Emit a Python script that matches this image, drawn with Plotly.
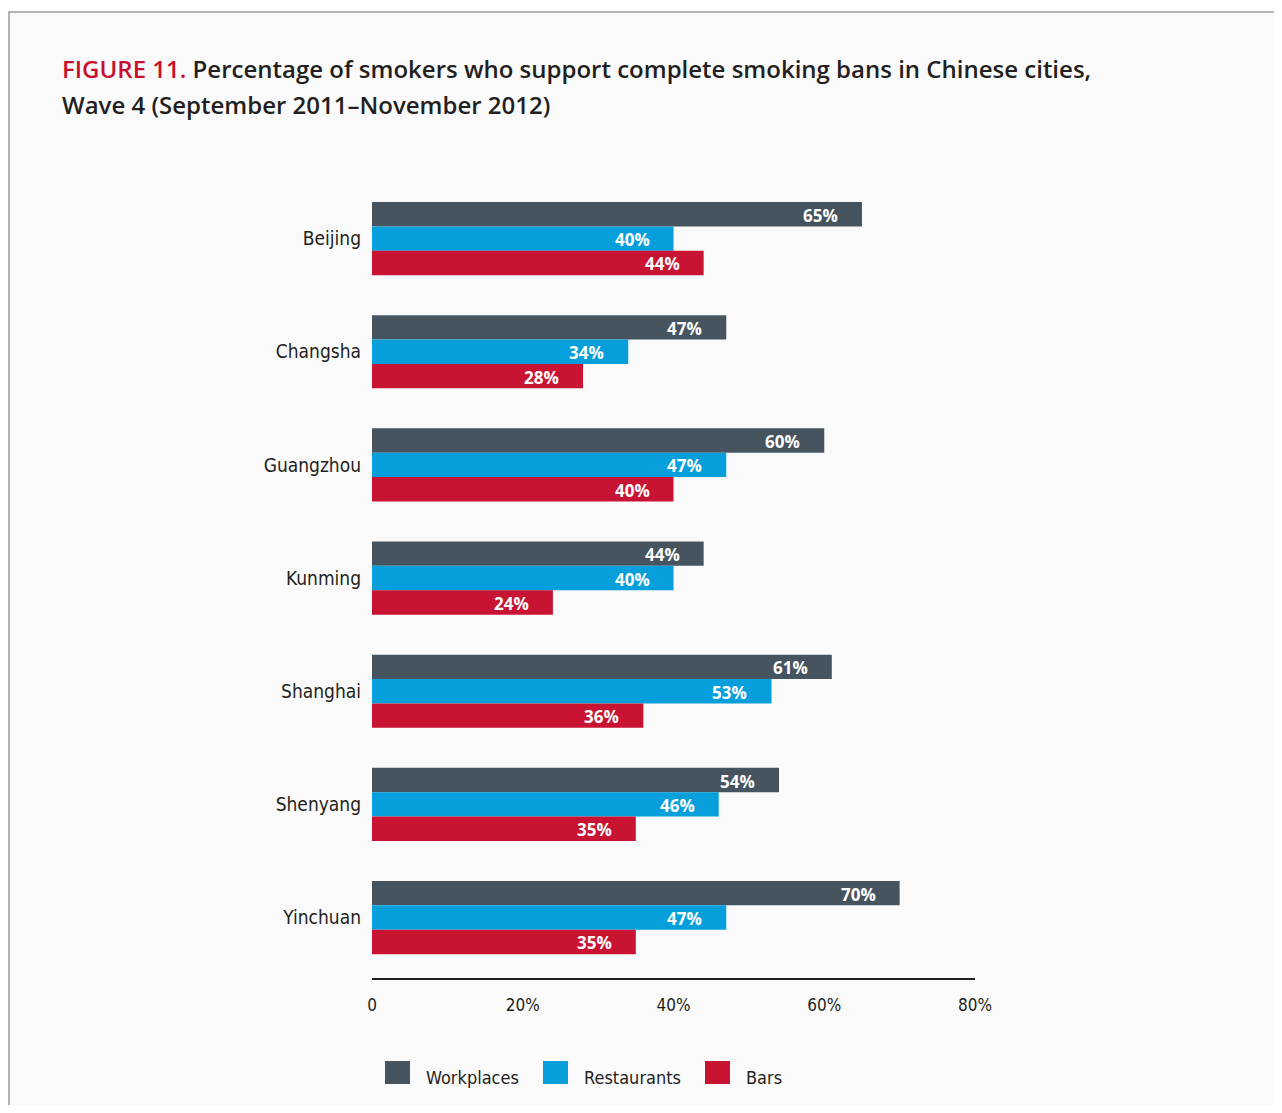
import plotly.graph_objects as go

cities = ["Beijing", "Changsha", "Guangzhou", "Kunming", "Shanghai", "Shenyang", "Yinchuan"]
workplaces = [65, 47, 60, 44, 61, 54, 70]
restaurants = [40, 34, 47, 40, 53, 46, 47]
bars = [44, 28, 40, 24, 36, 35, 35]
series_names = ["Workplaces", "Restaurants", "Bars"]
series_colors = ["#45545f", "#069fdb", "#c91333"]
tick_vals = [0, 20, 40, 60, 80]
tick_text = ["0", "20%", "40%", "60%", "80%"]
title_lines = [
    "<span style='color:#c8102e'>FIGURE 11.</span> Percentage of smokers who support complete smoking bans in Chinese cities,",
    "Wave 4 (September 2011\u2013November 2012)",
]

series_values = [workplaces, restaurants, bars]

COND = "DejaVu Sans Condensed, Roboto, sans-serif"

# page offset (browser body margin)
OFF = 8
W, H = 1282 - 2 * OFF, 1113 - 2 * OFF
# target page pixel geometry
PL, PR, PT, PB = 372, 975, 182, 978
L = PL - OFF
T = PT - OFF
R = W - (PR - OFF)
B = H - (PB - OFF)
pw = W - L - R
ph = H - T - B

fig = go.Figure()
for name, vals, col in zip(series_names, series_values, series_colors):
    fig.add_trace(go.Bar(
        y=cities, x=vals, name=name, orientation="h",
        marker=dict(color=col, line=dict(width=0)),
        showlegend=False, hoverinfo="x+y",
    ))

annotations = []
bar_px = 24.4
shifts = [bar_px, 0, -bar_px]
for vals, ys in zip(series_values, shifts):
    for c, v in zip(cities, vals):
        annotations.append(dict(
            x=v, y=c, xref="x", yref="y", text=f"<b>{v}%</b>",
            showarrow=False, xanchor="right", yanchor="middle",
            xshift=-22, yshift=ys - 1,
            font=dict(family="Open Sans", size=17, color="white"),
        ))

def px_x(p):
    return (p - OFF - L) / pw

def px_y(p):
    return (H + OFF - B - p) / ph

# legend (manual swatches)
leg_x = [385, 543, 705]
shapes = [dict(type="rect", xref="paper", yref="paper",
               x0=px_x(9), x1=px_x(1300), y0=px_y(1130), y1=px_y(12),
               fillcolor="#fafafa", line=dict(color="#b3b3b3", width=2),
               layer="below")]
for name, col, lx in zip(series_names, series_colors, leg_x):
    shapes.append(dict(type="rect", xref="paper", yref="paper",
                       x0=px_x(lx), x1=px_x(lx + 25), y0=px_y(1084), y1=px_y(1061),
                       fillcolor=col, line=dict(width=0)))
    annotations.append(dict(x=px_x(lx + 39), y=px_y(1077), xref="paper", yref="paper",
                            text=name, showarrow=False, xanchor="left", yanchor="middle",
                            font=dict(family=COND, size=18, color="#231f20")))

# title (two lines)
for line, yc in zip(title_lines, [68, 105]):
    annotations.append(dict(
        x=px_x(60), y=px_y(yc), xref="paper", yref="paper", xanchor="left", yanchor="middle",
        align="left", showarrow=False, text=line,
        font=dict(family="Open Sans", size=24, color="#231f20", weight=600),
    ))

fig.update_layout(
    width=W, height=H,
    margin=dict(l=L, r=R, t=T, b=B, pad=0),
    paper_bgcolor="white", plot_bgcolor="#fafafa",
    barmode="group", bargap=0.353, bargroupgap=0,
    showlegend=False,
    shapes=shapes, annotations=annotations,
    xaxis=dict(range=[0, 80], tickvals=tick_vals, ticktext=tick_text,
               showgrid=False, zeroline=False, showline=True, linecolor="#231f20",
               linewidth=2, ticks="", ticklabelstandoff=11,
               tickfont=dict(family=COND, size=17, color="#231f20")),
    yaxis=dict(range=[6.534, -0.5], showgrid=False, zeroline=False, showline=False,
               ticks="", ticklabelstandoff=10,
               tickfont=dict(family=COND, size=19, color="#231f20")),
    font=dict(family=COND),
)

fig.write_html("out.html")
